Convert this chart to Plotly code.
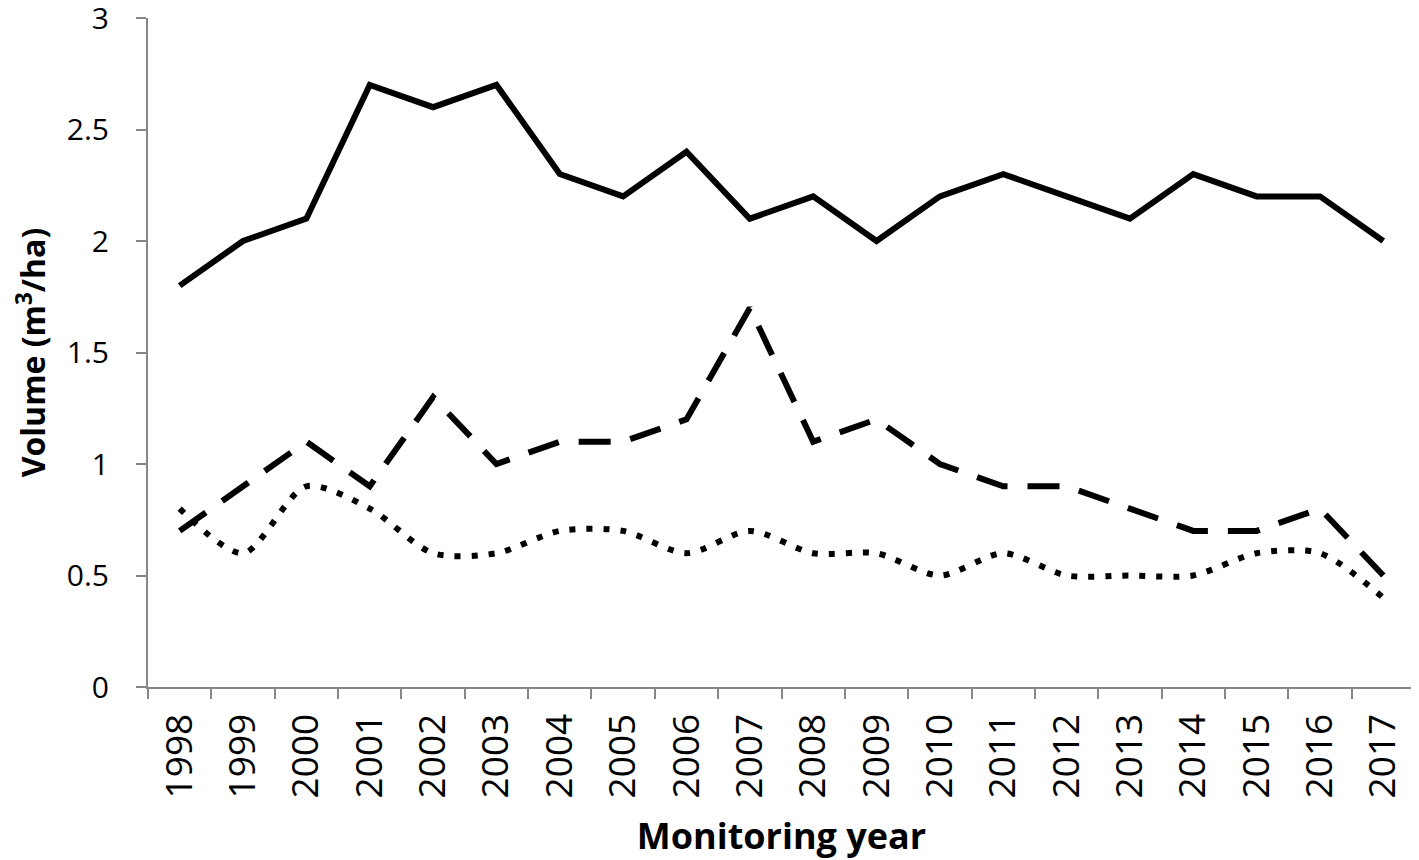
import plotly.graph_objects as go

# Monitoring years and the three volume series (m3/ha).
years = [str(y) for y in range(1998, 2018)]
solid_vals = [1.8, 2.0, 2.1, 2.7, 2.6, 2.7, 2.3, 2.2, 2.4, 2.1,
              2.2, 2.0, 2.2, 2.3, 2.2, 2.1, 2.3, 2.2, 2.2, 2.0]
dashed_vals = [0.7, 0.9, 1.1, 0.9, 1.3, 1.0, 1.1, 1.1, 1.2, 1.7,
               1.1, 1.2, 1.0, 0.9, 0.9, 0.8, 0.7, 0.7, 0.8, 0.5]
dotted_vals = [0.8, 0.6, 0.9, 0.8, 0.6, 0.6, 0.7, 0.7, 0.6, 0.7,
               0.6, 0.6, 0.5, 0.6, 0.5, 0.5, 0.5, 0.6, 0.6, 0.4]
y_ticks = [0, 0.5, 1, 1.5, 2, 2.5, 3]
y_labels = ["0", "0.5", "1", "1.5", "2", "2.5", "3"]

font = "Open Sans, Liberation Sans, sans-serif"
grey = "#868686"

fig = go.Figure()
fig.add_trace(go.Scatter(x=years, y=solid_vals, mode="lines",
                         line=dict(color="black", width=6)))
fig.add_trace(go.Scatter(x=years, y=dashed_vals, mode="lines",
                         line=dict(color="black", width=6, dash="32px,20px")))
fig.add_trace(go.Scatter(x=years, y=dotted_vals, mode="lines",
                         line=dict(color="black", width=6, dash="6px,11px",
                                   shape="spline", smoothing=0.8)))

# the page body adds an 8px margin, so the figure is a bit smaller
fig.update_layout(
    width=1411, height=852,
    margin=dict(l=140, r=4, t=10, b=173),
    plot_bgcolor="white", paper_bgcolor="white",
    showlegend=False,
    font=dict(family=font, color="black"),
)
fig.update_xaxes(
    type="category", range=[-0.5, 19.5], tickson="boundaries",
    ticks="outside", ticklen=10, tickcolor=grey, tickwidth=2,
    showline=True, linecolor=grey, linewidth=2, showgrid=False,
    tickangle=-90, automargin=False, ticklabelstandoff=10,
    tickfont=dict(size=37, family=font),
    title=dict(text="<b>Monitoring year</b>", font=dict(size=36, family=font),
               standoff=34),
)
fig.update_yaxes(
    range=[0, 3], tickvals=y_ticks, ticktext=y_labels,
    ticks="outside", ticklen=10, tickcolor=grey, tickwidth=2,
    showline=True, linecolor=grey, linewidth=2, showgrid=False,
    zeroline=False, automargin=False, ticklabeloverflow="allow",
    ticklabelstandoff=21,
    tickfont=dict(size=30, family=font),
    title=dict(text="<b>Volume (m<sup>3</sup>/ha)</b>",
               font=dict(size=32, family=font)),
)

fig.write_html("out.html")
